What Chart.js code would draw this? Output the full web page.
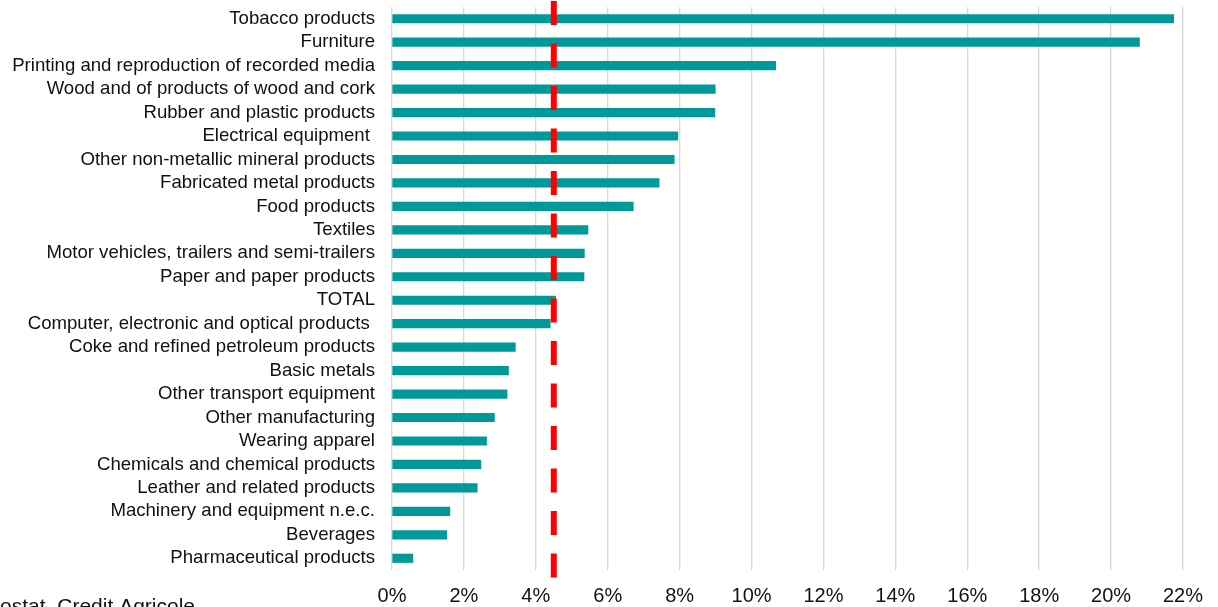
<!DOCTYPE html>
<html>
<head>
<meta charset="utf-8">
<script src="https://cdn.jsdelivr.net/npm/chart.js@4/dist/chart.umd.min.js"></script>
<style>
html,body{margin:0;padding:0;background:#fff;}
#wrap{width:1218px;height:607px;position:relative;}
</style>
</head>
<body>
<div id="wrap"><canvas id="c" width="1218" height="607"></canvas></div>
<script>
const categories = [
  "Tobacco products",
  "Furniture",
  "Printing and reproduction of recorded media",
  "Wood and of products of wood and cork",
  "Rubber and plastic products",
  "Electrical equipment ",
  "Other non-metallic mineral products",
  "Fabricated metal products",
  "Food products",
  "Textiles",
  "Motor vehicles, trailers and semi-trailers",
  "Paper and paper products",
  "TOTAL",
  "Computer, electronic and optical products ",
  "Coke and refined petroleum products",
  "Basic metals",
  "Other transport equipment",
  "Other manufacturing",
  "Wearing apparel",
  "Chemicals and chemical products",
  "Leather and related products",
  "Machinery and equipment n.e.c.",
  "Beverages",
  "Pharmaceutical products"
];
const values = [21.74, 20.79, 10.67, 8.99, 8.98, 7.95, 7.85, 7.43, 6.71, 5.45, 5.35, 5.34, 4.55, 4.40, 3.43, 3.24, 3.20, 2.85, 2.63, 2.47, 2.37, 1.61, 1.52, 0.58];
const averageLine = [4.5];
const xTicks = [0, 2, 4, 6, 8, 10, 12, 14, 16, 18, 20, 22];
const sourceText = "Source: Eurostat, Credit Agricole";

const refLinePlugin = {
  id: 'refLine',
  afterDatasetsDraw(chart) {
    const ctx = chart.ctx;
    const xs = chart.scales.x;
    ctx.save();
    ctx.strokeStyle = '#FF0000';
    ctx.lineWidth = 6;
    ctx.lineCap = 'butt';
    ctx.setLineDash([24, 18.5]);
    averageLine.forEach(v => {
      const x = xs.getPixelForValue(v);
      ctx.beginPath();
      ctx.moveTo(x, 1);
      ctx.lineTo(x, 578);
      ctx.stroke();
    });
    ctx.restore();
  },
  afterDraw(chart) {
    const ctx = chart.ctx;
    ctx.save();
    ctx.fillStyle = '#111';
    ctx.font = '21px "Liberation Sans", Arial, sans-serif';
    ctx.textAlign = 'right';
    ctx.textBaseline = 'alphabetic';
    ctx.fillText(sourceText, 195, 613);
    ctx.restore();
  }
};

new Chart(document.getElementById('c'), {
  type: 'bar',
  data: {
    labels: categories,
    datasets: [{
      data: values,
      backgroundColor: '#009999',
      borderWidth: 0,
      barThickness: 8.5
    }]
  },
  options: {
    indexAxis: 'y',
    responsive: false,
    animation: false,
    devicePixelRatio: 1,
    layout: { padding: { top: 7, right: 35, left: 0, bottom: 0 } },
    plugins: { legend: { display: false }, tooltip: { enabled: false } },
    scales: {
      x: {
        min: 0,
        max: 22,
        afterBuildTicks(scale) { scale.ticks = xTicks.map(v => ({ value: v })); },
        afterFit(scale) { scale.height = 37; scale.paddingLeft = 0; },
        grid: { color: '#d9d9d9', lineWidth: 1.4, drawTicks: false },
        border: { display: false },
        ticks: {
          padding: 14,
          color: '#111',
          font: { family: '"Liberation Sans", Arial, sans-serif', size: 20 },
          callback: v => v + '%',
          maxRotation: 0
        }
      },
      y: {
        afterFit(scale) { scale.width = 392; scale.paddingTop = 0; scale.paddingBottom = 0; },
        grid: { display: false, drawTicks: false },
        border: { display: false },
        ticks: {
          padding: 17,
          color: '#111',
          autoSkip: false,
          font: { family: '"Liberation Sans", Arial, sans-serif', size: 18.6 }
        }
      }
    }
  },
  plugins: [refLinePlugin]
});
</script>
</body>
</html>
